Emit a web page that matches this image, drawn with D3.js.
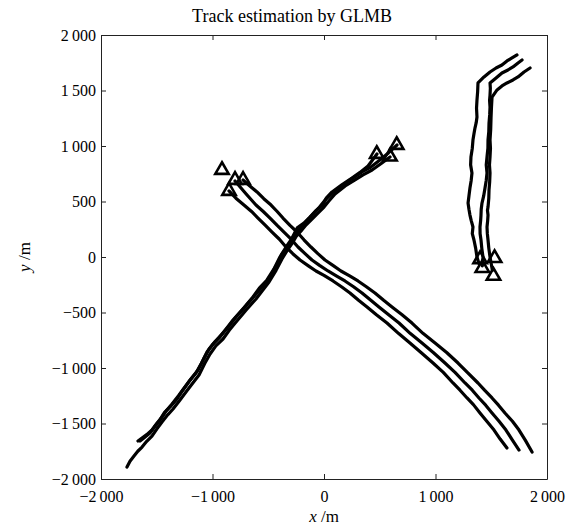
<!DOCTYPE html>
<html>
<head>
<meta charset="utf-8">
<script src="https://cdn.jsdelivr.net/npm/d3@7"></script>
<style>
  html, body { margin: 0; padding: 0; background: #fff; }
  svg { display: block; }
  text { font-family: "Liberation Serif", "Times New Roman", serif; fill: #000; }
</style>
</head>
<body>
<svg id="chart" width="570" height="528"></svg>
<script>
// ---------- data (x, y in metres) ----------
const chartTitle = "Track estimation by GLMB";
const xTicks = [-2000, -1000, 0, 1000, 2000];
const yTicks = [-2000, -1500, -1000, -500, 0, 500, 1000, 1500, 2000];

// targets moving from NE to SW
const trackA1 = [[475,928],[395,820],[320,760],[251,712],[160,650],[72,586],[20,530],[-10,470],[-70,420],[-126,360],[-180,305],[-240,262],[-296,153],[-340,90],[-395,0],[-450,-110],[-511,-207],[-580,-280],[-637,-360],[-730,-470],[-816,-568],[-880,-650],[-933,-721],[-1000,-790],[-1049,-856],[-1100,-960],[-1148,-1045],[-1210,-1120],[-1265,-1198],[-1320,-1280],[-1381,-1351],[-1430,-1400],[-1471,-1468],[-1520,-1530],[-1561,-1586],[-1610,-1625],[-1650,-1658]];
const trackA2 = [[592,901],[510,840],[431,784],[350,740],[278,694],[190,640],[99,568],[40,500],[0,450],[-50,400],[-108,342],[-160,290],[-206,234],[-250,185],[-278,135],[-330,60],[-377,-18],[-430,-120],[-493,-225],[-550,-300],[-610,-378],[-700,-480],[-789,-586],[-850,-660],[-906,-739],[-970,-800],[-1022,-874],[-1070,-960],[-1121,-1063],[-1180,-1140],[-1238,-1216],[-1300,-1300],[-1354,-1369],[-1400,-1420],[-1453,-1486],[-1500,-1550],[-1543,-1613],[-1590,-1660],[-1632,-1712],[-1670,-1750],[-1704,-1793],[-1740,-1840],[-1767,-1892]];
const trackA3 = [[655,1009],[580,940],[502,874],[420,810],[341,766],[240,700],[144,631],[80,580],[18,523],[-40,450],[-99,387],[-150,330],[-197,279],[-235,230],[-269,180],[-320,100],[-377,27],[-430,-80],[-484,-180],[-550,-260],[-610,-333],[-700,-440],[-789,-541],[-850,-620],[-915,-694],[-975,-760],[-1031,-829],[-1080,-920],[-1130,-1018],[-1190,-1095],[-1247,-1171],[-1305,-1250],[-1363,-1324],[-1410,-1380],[-1453,-1441],[-1500,-1500],[-1543,-1559],[-1590,-1600],[-1632,-1631],[-1668,-1658]];

// targets moving from NW to SE
const trackB1 = [[-852,595],[-790,530],[-718,468],[-650,410],[-592,351],[-530,290],[-466,225],[-400,160],[-341,90],[-280,30],[-215,-27],[-140,-80],[-72,-126],[0,-165],[81,-216],[160,-270],[233,-324],[310,-390],[386,-450],[470,-520],[565,-595],[670,-690],[771,-775],[870,-860],[978,-955],[1070,-1040],[1157,-1135],[1220,-1200],[1283,-1270],[1340,-1330],[1399,-1405],[1460,-1480],[1525,-1559],[1580,-1640],[1641,-1721]];
const trackB2 = [[-798,685],[-700,570],[-610,468],[-545,410],[-484,351],[-420,285],[-359,225],[-295,160],[-233,90],[-170,30],[-108,-27],[-40,-75],[36,-126],[110,-170],[188,-216],[265,-268],[341,-324],[420,-390],[493,-450],[580,-520],[673,-595],[775,-690],[879,-775],[980,-860],[1085,-955],[1175,-1040],[1265,-1135],[1330,-1200],[1390,-1270],[1450,-1335],[1507,-1405],[1570,-1480],[1632,-1559],[1690,-1650],[1749,-1739]];
const trackB3 = [[-726,694],[-665,640],[-601,586],[-540,525],[-475,468],[-420,410],[-368,351],[-305,285],[-242,225],[-180,155],[-117,90],[-55,30],[9,-27],[80,-75],[152,-126],[230,-170],[305,-216],[380,-268],[457,-324],[535,-390],[610,-450],[700,-520],[789,-595],[890,-690],[996,-775],[1100,-860],[1202,-955],[1290,-1045],[1381,-1135],[1440,-1200],[1507,-1270],[1565,-1335],[1623,-1405],[1690,-1480],[1749,-1559],[1805,-1650],[1866,-1757]];

// targets moving north then turning NE
const trackC1 = [[1390,-60],[1372,0],[1360,80],[1345,153],[1330,210],[1336,270],[1320,330],[1309,378],[1300,430],[1292,486],[1300,550],[1309,622],[1320,690],[1327,757],[1315,830],[1318,901],[1330,980],[1336,1054],[1345,1110],[1354,1162],[1365,1210],[1372,1261],[1368,1340],[1372,1414],[1378,1490],[1381,1568],[1435,1622],[1489,1667],[1543,1703],[1596,1730],[1641,1766],[1686,1793],[1731,1820]];
const trackC2 = [[1420,-80],[1426,0],[1415,80],[1408,153],[1400,210],[1399,270],[1405,330],[1408,378],[1410,430],[1417,486],[1432,550],[1444,622],[1455,690],[1462,757],[1455,830],[1462,901],[1470,980],[1471,1054],[1478,1130],[1480,1207],[1486,1280],[1489,1351],[1485,1410],[1489,1459],[1492,1520],[1489,1568],[1543,1613],[1596,1658],[1650,1685],[1695,1712],[1740,1748],[1776,1775]];
const trackC3 = [[1510,-120],[1489,0],[1478,80],[1471,153],[1465,210],[1462,270],[1468,330],[1471,378],[1466,420],[1471,450],[1478,530],[1480,604],[1486,680],[1489,757],[1484,830],[1489,901],[1493,980],[1489,1054],[1495,1150],[1498,1252],[1502,1350],[1507,1441],[1552,1505],[1596,1541],[1641,1568],[1695,1595],[1740,1622],[1794,1667],[1848,1703]];

const tracks = [trackA1, trackA2, trackA3, trackB1, trackB2, trackB3, trackC1, trackC2, trackC3];

// track birth positions (triangles)
const birthX = [473, 592, 652, -915, -798, -726, -852, 1400, 1530, 1420, 1520];
const birthY = [928, 904, 1009, 784, 694, 694, 595, -20, -10, -100, -170];

// ---------- layout ----------
const svg = d3.select("#chart");
const mLeft = 101, mRight = 547, mTop = 35, mBottom = 479;

const x = d3.scaleLinear().domain([-2000, 2000]).range([mLeft, mRight]);
const y = d3.scaleLinear().domain([-2000, 2000]).range([mBottom, mTop]);

const fmt = v => {
  const a = Math.abs(v);
  const s = a >= 1000 ? Math.floor(a / 1000) + "\u2009" + String(a % 1000).padStart(3, "0") : String(a);
  return (v < 0 ? "\u2212" : "") + s;
};

svg.append("defs").append("clipPath").attr("id", "clip")
  .append("rect").attr("x", mLeft).attr("y", mTop).attr("width", mRight - mLeft).attr("height", mBottom - mTop);

// tracks
const line = d3.line().x(d => x(d[0])).y(d => y(d[1])).curve(d3.curveLinear);
svg.append("g").attr("clip-path", "url(#clip)")
  .selectAll("path").data(tracks).join("path")
  .attr("d", line)
  .attr("fill", "none")
  .attr("stroke", "#000")
  .attr("stroke-width", 3.2)
  .attr("stroke-linejoin", "round")
  .attr("stroke-linecap", "round");

// birth markers
const tri = d3.symbol().type(d3.symbolTriangle).size(78);
svg.append("g").selectAll("path").data(birthX.map((bx, i) => [bx, birthY[i]])).join("path")
  .attr("transform", d => `translate(${x(d[0])},${y(d[1])})`)
  .attr("d", tri)
  .attr("fill", "none")
  .attr("stroke", "#000")
  .attr("stroke-width", 2.6)
  .attr("stroke-linejoin", "miter");

// axes (box with inward ticks)
const tickLen = 5;
const axisStyle = g => {
  g.select(".domain").attr("stroke", "#222").attr("stroke-width", 1);
  g.selectAll(".tick line").attr("stroke", "#222");
  g.selectAll("text").attr("font-family", "'Liberation Serif', 'Times New Roman', serif").attr("font-size", 16).attr("fill", "#000");
};

svg.append("g").attr("transform", `translate(0,${mBottom})`)
  .call(d3.axisBottom(x).tickValues(xTicks).tickFormat(fmt).tickSizeInner(-tickLen).tickSizeOuter(0).tickPadding(12))
  .call(axisStyle);
svg.append("g").attr("transform", `translate(0,${mTop})`)
  .call(d3.axisTop(x).tickValues(xTicks).tickFormat("").tickSizeInner(-tickLen).tickSizeOuter(0))
  .call(axisStyle);
svg.append("g").attr("transform", `translate(${mLeft},0)`)
  .call(d3.axisLeft(y).tickValues(yTicks).tickFormat(fmt).tickSizeInner(-tickLen).tickSizeOuter(0).tickPadding(5))
  .call(axisStyle);
svg.append("g").attr("transform", `translate(${mRight},0)`)
  .call(d3.axisRight(y).tickValues(yTicks).tickFormat("").tickSizeInner(-tickLen).tickSizeOuter(0))
  .call(axisStyle);

// title
svg.append("text")
  .attr("x", 292).attr("y", 22)
  .attr("text-anchor", "middle")
  .attr("font-size", 18)
  .text(chartTitle);

// x label
const xl = svg.append("text")
  .attr("x", 324).attr("y", 522)
  .attr("text-anchor", "middle")
  .attr("font-size", 17);
xl.append("tspan").attr("font-style", "italic").text("x");
xl.append("tspan").text(" /m");

// y label
const yl = svg.append("text")
  .attr("transform", `translate(30,257) rotate(-90)`)
  .attr("text-anchor", "middle")
  .attr("font-size", 17);
yl.append("tspan").attr("font-style", "italic").text("y");
yl.append("tspan").text(" /m");
</script>
</body>
</html>
